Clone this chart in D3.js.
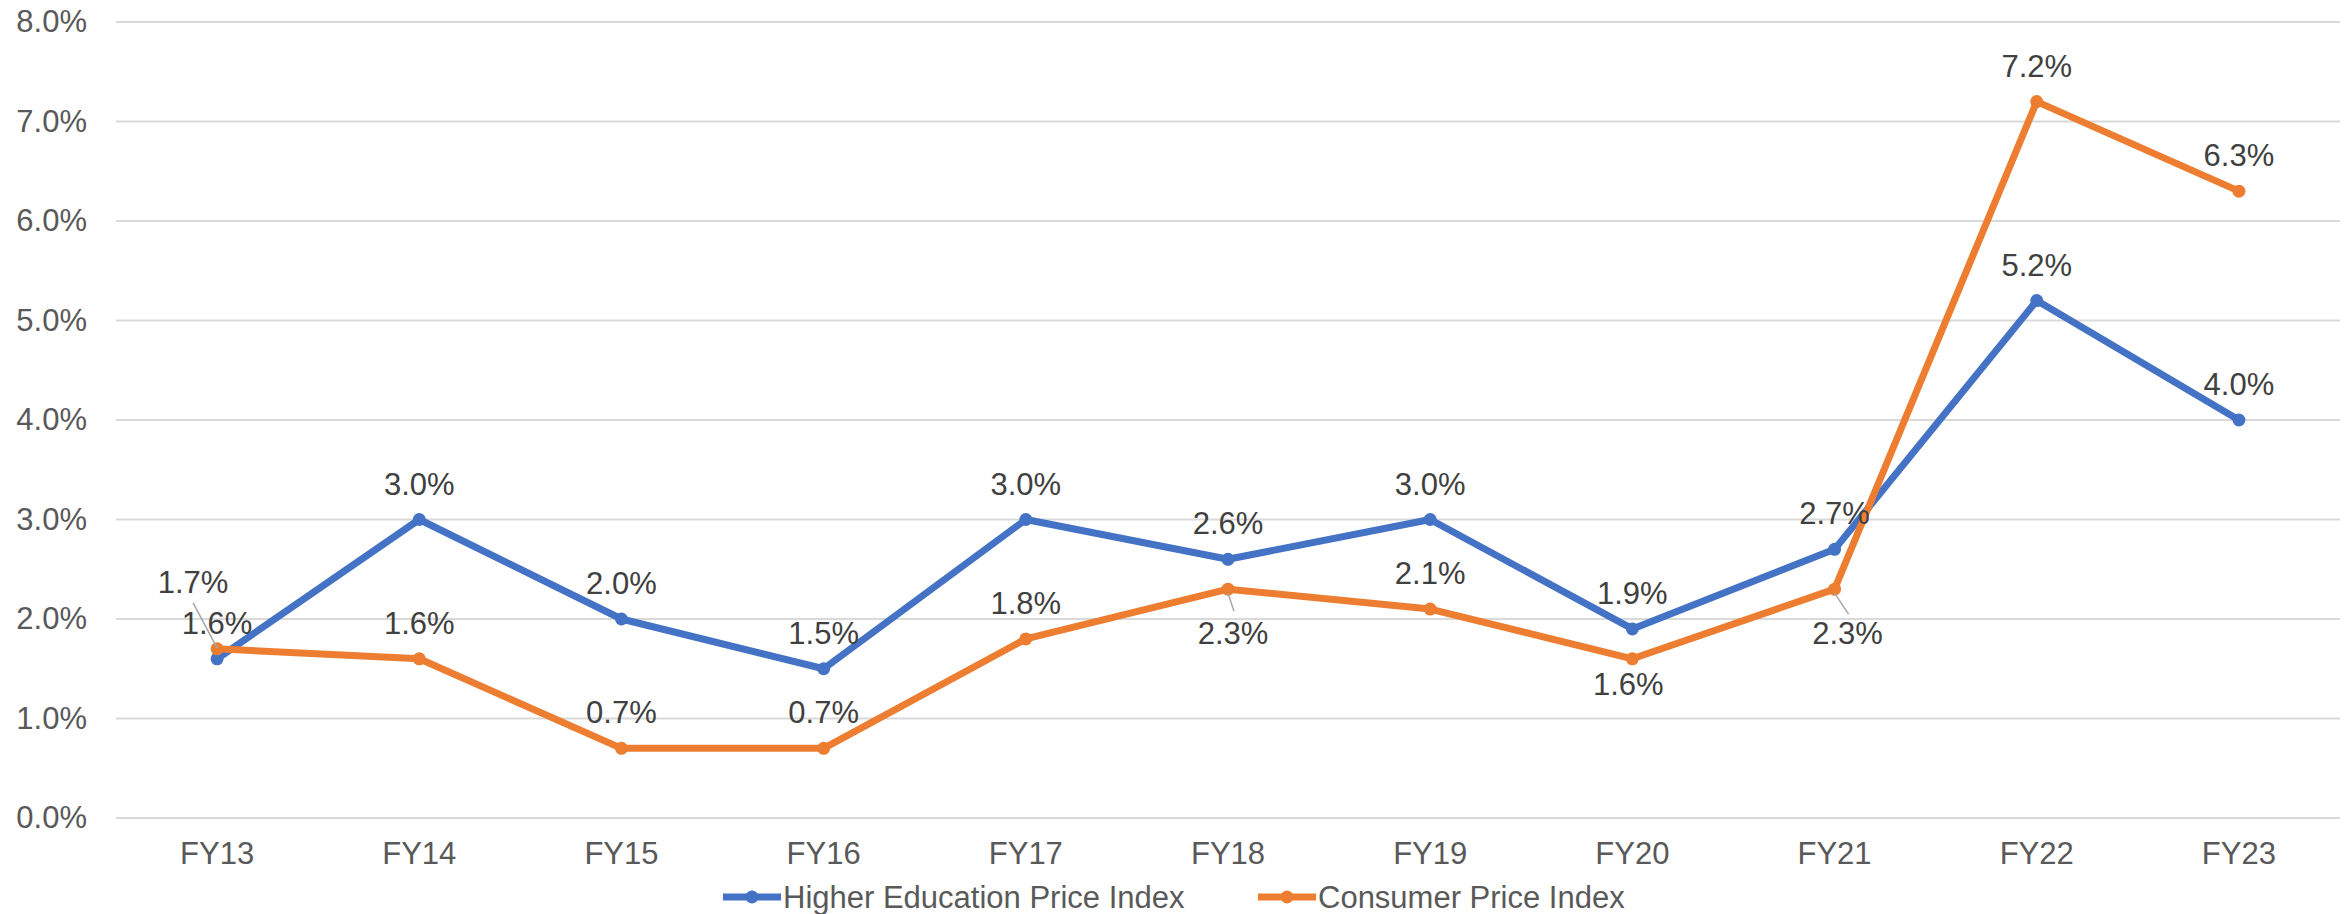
<!DOCTYPE html>
<html>
<head>
<meta charset="utf-8">
<script src="https://cdn.jsdelivr.net/npm/d3@7"></script>
<style>
  body { margin: 0; background: #fff; }
  text { font-family: Arial, "Liberation Sans", sans-serif; }
</style>
</head>
<body>
<div id="viz"></div>
<script>
var categories = ["FY13", "FY14", "FY15", "FY16", "FY17", "FY18", "FY19", "FY20", "FY21", "FY22", "FY23"];
var hepi = [1.6, 3.0, 2.0, 1.5, 3.0, 2.6, 3.0, 1.9, 2.7, 5.2, 4.0];
var cpi = [1.7, 1.6, 0.7, 0.7, 1.8, 2.3, 2.1, 1.6, 2.3, 7.2, 6.3];
var yTicks = [0, 1, 2, 3, 4, 5, 6, 7, 8];
var seriesNames = ["Higher Education Price Index", "Consumer Price Index"];

var width = 2349,
    height = 914,
    margin = {top: 22, right: 9, bottom: 96, left: 116};

var colors = ["#4472C4", "#ED7D31"];

var svg = d3.select("#viz").append("svg")
    .attr("width", width)
    .attr("height", height);

var x = d3.scaleBand()
    .domain(categories)
    .range([margin.left, width - margin.right]);

var y = d3.scaleLinear()
    .domain([0, 8])
    .range([height - margin.bottom, margin.top]);

// gridlines
svg.append("g")
    .selectAll("line")
    .data(yTicks)
    .join("line")
    .attr("x1", margin.left)
    .attr("x2", width - margin.right)
    .attr("y1", d => y(d))
    .attr("y2", d => y(d))
    .style("stroke", "#d9d9d9")
    .style("stroke-width", 2);

// y axis labels
var yAxis = d3.axisLeft(y).tickValues(yTicks).tickFormat(d => d.toFixed(1) + "%").tickSize(0).tickPadding(29);
svg.append("g")
    .attr("transform", "translate(" + margin.left + ",0)")
    .call(yAxis)
    .call(g => g.select(".domain").remove())
    .selectAll("text")
    .style("font-size", "31px")
    .style("fill", "#595959")
    .style("font-family", "Arial, 'Liberation Sans', sans-serif");

// x axis labels
var xAxis = d3.axisBottom(x).tickSize(0).tickPadding(24);
svg.append("g")
    .attr("transform", "translate(0," + y(0) + ")")
    .call(xAxis)
    .call(g => g.select(".domain").remove())
    .selectAll("text")
    .style("font-size", "31px")
    .style("fill", "#595959")
    .style("font-family", "Arial, 'Liberation Sans', sans-serif");

var cx = d => x(d) + x.bandwidth() / 2;

var line = d3.line()
    .x((d, i) => cx(categories[i]))
    .y(d => y(d));

[hepi, cpi].forEach(function(vals, s) {
    svg.append("path")
        .datum(vals)
        .attr("d", line)
        .style("fill", "none")
        .style("stroke", colors[s])
        .style("stroke-width", 7)
        .style("stroke-linejoin", "round");
    svg.append("g")
        .selectAll("circle")
        .data(vals)
        .join("circle")
        .attr("cx", (d, i) => cx(categories[i]))
        .attr("cy", d => y(d))
        .attr("r", 6.5)
        .style("fill", colors[s]);
});

// label placement: dx, dy of baseline relative to point, optional leader line
var below = 36, above = -25;
var cpiPlace = {
    0: {dx: -24, dy: -56, leader: [[-24, -46], [0, -1]]},
    5: {dx: 5, dy: 55, leader: [[0, 4], [6, 22]]},
    7: {dx: -4, dy: below},
    8: {dx: 13, dy: 55, leader: [[0, 4], [14, 25]]}
};

function addLabels(vals, place) {
    vals.forEach(function(v, i) {
        var p = place[i] || {dx: 0, dy: above};
        var px = cx(categories[i]), py = y(v);
        if (p.leader) {
            svg.append("line")
                .attr("x1", px + p.leader[0][0])
                .attr("y1", py + p.leader[0][1])
                .attr("x2", px + p.leader[1][0])
                .attr("y2", py + p.leader[1][1])
                .style("stroke", "#a6a6a6")
                .style("stroke-width", 1.5);
        }
        svg.append("text")
            .attr("x", px + p.dx)
            .attr("y", py + p.dy)
            .attr("text-anchor", "middle")
            .style("font-size", "31px")
            .style("fill", "#404040")
            .text(v.toFixed(1) + "%");
    });
}

addLabels(hepi, {});
addLabels(cpi, cpiPlace);

// legend
var legendX = [723, 1258], legendY = 897;
seriesNames.forEach(function(name, s) {
    var g = svg.append("g");
    g.append("line")
        .attr("x1", legendX[s])
        .attr("x2", legendX[s] + 58)
        .attr("y1", legendY)
        .attr("y2", legendY)
        .style("stroke", colors[s])
        .style("stroke-width", 7);
    g.append("circle")
        .attr("cx", legendX[s] + 29)
        .attr("cy", legendY)
        .attr("r", 6.5)
        .style("fill", colors[s]);
    g.append("text")
        .attr("x", legendX[s] + 60)
        .attr("y", legendY + 11)
        .style("font-size", "31px")
        .style("fill", "#595959")
        .text(name);
});
</script>
</body>
</html>
